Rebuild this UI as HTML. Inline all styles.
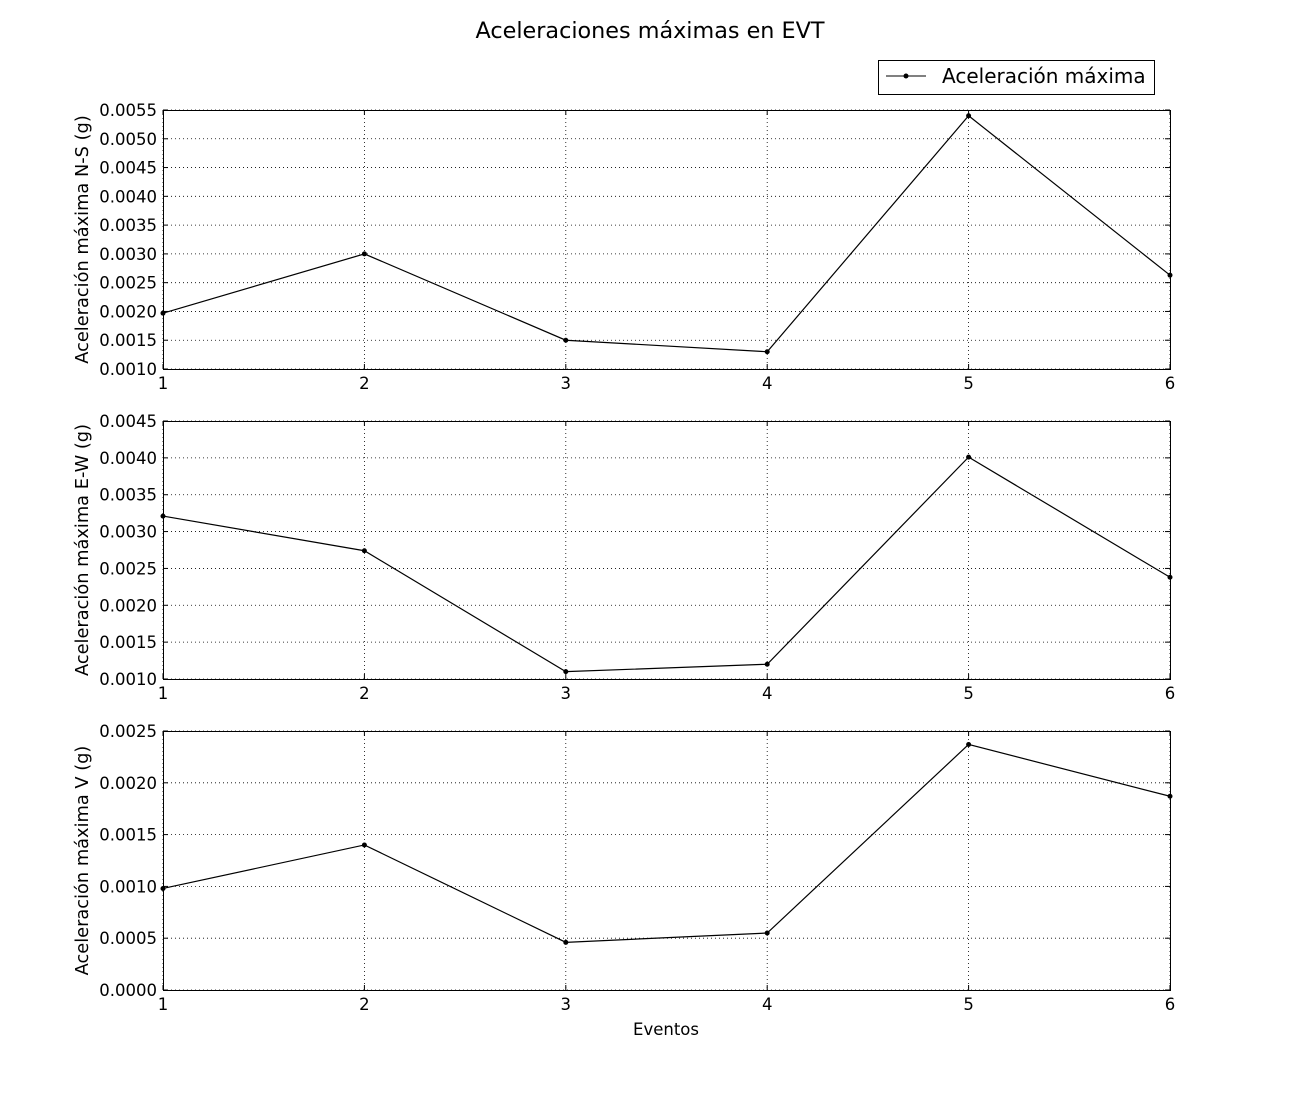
<!DOCTYPE html>
<html><head><meta charset="utf-8"><style>
html,body{margin:0;padding:0;background:#fff;}
svg{display:block;font-family:"DejaVu Sans","Liberation Sans",sans-serif;}
</style></head><body>
<svg id="chart" width="1300" height="1100" viewBox="0 0 1300 1100">
<text x="650" y="38" text-anchor="middle" font-size="22.3">Aceleraciones máximas en EVT</text>
<g>
<rect x="878.5" y="60.5" width="276" height="34" fill="#fff" stroke="#000"/>
<line x1="886" y1="76" x2="926" y2="76" stroke="#000"/>
<circle cx="906" cy="76" r="2.5" fill="#000"/>
<text x="942" y="83" font-size="20">Aceleración máxima</text>
</g>
<text x="666" y="1035" text-anchor="middle" font-size="16.5">Eventos</text>
</svg>
<script>
const categories = [1, 2, 3, 4, 5, 6];
const seriesNS = [0.00197, 0.0030, 0.0015, 0.0013, 0.0054, 0.00263];
const seriesEW = [0.00321, 0.00274, 0.0011, 0.0012, 0.00401, 0.00238];
const seriesV = [0.00098, 0.0014, 0.00046, 0.00055, 0.00237, 0.00187];
const ticksNS = [0.0010, 0.0015, 0.0020, 0.0025, 0.0030, 0.0035, 0.0040, 0.0045, 0.0050, 0.0055];
const ticksEW = [0.0010, 0.0015, 0.0020, 0.0025, 0.0030, 0.0035, 0.0040, 0.0045];
const ticksV = [0.0000, 0.0005, 0.0010, 0.0015, 0.0020, 0.0025];
const xTicks = [1, 2, 3, 4, 5, 6];

const NS = 'http://www.w3.org/2000/svg';
const svg = document.getElementById('chart');
function mk(tag, attrs, parent) {
  const e = document.createElementNS(NS, tag);
  for (const k in attrs) e.setAttribute(k, attrs[k]);
  (parent || svg).appendChild(e);
  return e;
}
const L = 163, R = 1170;
function xScale(v) { return L + (v - xTicks[0]) / (xTicks[xTicks.length - 1] - xTicks[0]) * (R - L); }

function panel(name, top, bottom, ticks, series, ylabel) {
  const g = mk('g', {});
  
  
  const ymin = ticks[0], ymax = ticks[ticks.length - 1];
  const yScale = v => bottom - (v - ymin) / (ymax - ymin) * (bottom - top);
  ticks.forEach(t => {
    const y = yScale(t);
    const gl = mk('line', {x1: L, x2: R, y1: y, y2: y, stroke: '#000', 'stroke-width': 0.8, 'stroke-dasharray': '1,3'}, g);
    
    
    mk('line', {x1: L, x2: L + 5, y1: y, y2: y, stroke: '#000'}, g);
    mk('line', {x1: R - 5, x2: R, y1: y, y2: y, stroke: '#000'}, g);
    const tx = mk('text', {x: L - 6, y: y + 6, 'text-anchor': 'end', 'font-size': 16.5}, g);
    tx.textContent = t.toFixed(4);
    
    
  });
  xTicks.forEach(t => {
    const x = xScale(t);
    const gl = mk('line', {x1: x, x2: x, y1: top, y2: bottom, stroke: '#000', 'stroke-width': 0.8, 'stroke-dasharray': '1,3'}, g);
    
    
    mk('line', {x1: x, x2: x, y1: bottom, y2: bottom - 5, stroke: '#000'}, g);
    mk('line', {x1: x, x2: x, y1: top, y2: top + 5, stroke: '#000'}, g);
    const tx = mk('text', {x: x, y: bottom + 20, 'text-anchor': 'middle', 'font-size': 16.5}, g);
    tx.textContent = t;
    
    
  });
  const frame = mk('rect', {x: L + 0.5, y: top + 0.5, width: R - L, height: bottom - top, fill: 'none', stroke: '#000'}, g);
  
  
  const pts = series.map((v, i) => xScale(categories[i]) + ',' + yScale(v)).join(' ');
  const line = mk('polyline', {points: pts, fill: 'none', stroke: '#000', 'stroke-width': 1.2}, g);
  
  
  series.forEach((v, i) => {
    const c = mk('circle', {cx: xScale(categories[i]), cy: yScale(v), r: 2.5, fill: '#000'}, g);
    
    
  });
  const cy = (top + bottom) / 2;
  const yl = mk('text', {x: 88, y: cy, 'text-anchor': 'middle', 'font-size': 17.8, transform: 'rotate(-90 88 ' + cy + ')'}, g);
  yl.textContent = ylabel;
  
  
}
panel('ns', 110, 369, ticksNS, seriesNS, 'Aceleración máxima N-S (g)');
panel('ew', 421, 679, ticksEW, seriesEW, 'Aceleración máxima E-W (g)');
panel('v', 731, 990, ticksV, seriesV, 'Aceleración máxima V (g)');
</script>
</body></html>
